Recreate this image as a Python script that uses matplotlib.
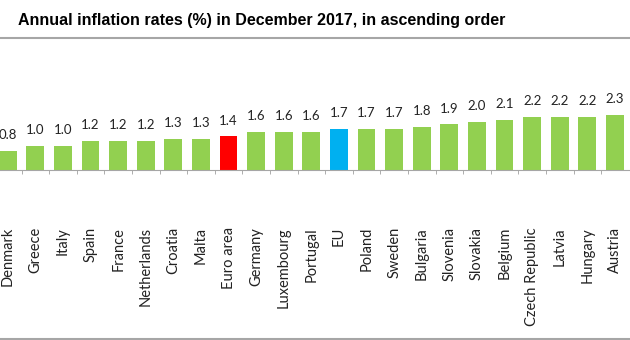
import matplotlib
matplotlib.use("Agg")
import matplotlib.pyplot as plt
from matplotlib.lines import Line2D

plt.rcParams["font.family"] = ["Lato", "DejaVu Sans"]

countries = ["Denmark", "Greece", "Italy", "Spain", "France", "Netherlands",
             "Croatia", "Malta", "Euro area", "Germany", "Luxembourg",
             "Portugal", "EU", "Poland", "Sweden", "Bulgaria", "Slovenia",
             "Slovakia", "Belgium", "Czech Republic", "Latvia", "Hungary",
             "Austria"]
rates = [0.8, 1.0, 1.0, 1.2, 1.2, 1.2, 1.3, 1.3, 1.4, 1.6, 1.6, 1.6, 1.7,
         1.7, 1.7, 1.8, 1.9, 2.0, 2.1, 2.2, 2.2, 2.2, 2.3]
highlight = {"Euro area": "#FF0000", "EU": "#00B0F0"}
base_color = "#92D050"

colors = [highlight.get(c, base_color) for c in countries]
x = list(range(len(countries)))

fig = plt.figure(figsize=(6.3, 3.4), dpi=100)
ax = fig.add_axes([0, 0.5, 1, 0.32])

bars = ax.bar(x, rates, width=0.65, color=colors)
for b, v in zip(bars, rates):
    ax.annotate(f"{v:.1f}", (b.get_x() + b.get_width() / 2, v),
                xytext=(0, 7), textcoords="offset points",
                ha="center", va="bottom", fontsize=9.5, color="#222222")

ax.set_xlim(-0.28, -0.28 + 630 / 27.6)
ax.set_ylim(0, 102 / 22.5)

ax.set_xticks(x)
ax.set_xticklabels(countries, rotation=90, fontsize=10.5, color="#222222",
                   va="top", ha="center")
ax.tick_params(axis="x", which="major", length=0, pad=41)
ax.set_xticks([i + 0.5 for i in x[:-1]], minor=True)
ax.tick_params(axis="x", which="minor", length=3, color="#A0A0A0")
ax.set_yticks([])
for side in ("top", "right", "left"):
    ax.spines[side].set_visible(False)
ax.spines["bottom"].set_color("#A6A6A6")

fig.text(0.416, 1 - 21 / 340,
         "Annual inflation rates (%) in December 2017, in ascending order",
         family=["Liberation Sans", "DejaVu Sans"],
         fontweight="bold", fontsize=11.5, ha="center", va="center")

# rules under the title and along the bottom
for yy in (1 - 37.5 / 340, 1 - 339 / 340):
    fig.add_artist(Line2D([0, 1], [yy, yy], transform=fig.transFigure,
                          color="#A6A6A6", linewidth=1.5))

fig.savefig("out.png", dpi=100)
